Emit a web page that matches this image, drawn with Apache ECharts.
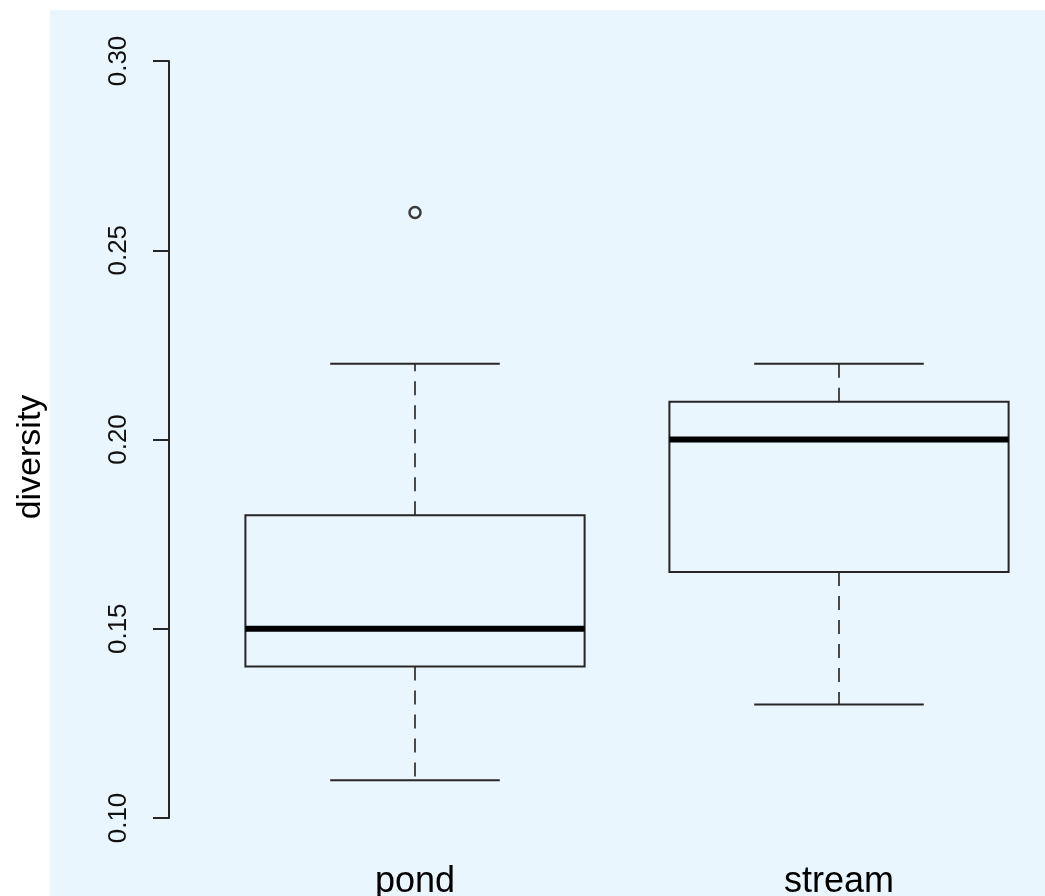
<!DOCTYPE html>
<html>
<head>
<meta charset="utf-8">
<script src="https://cdn.jsdelivr.net/npm/echarts@6/dist/echarts.min.js"></script>
<style>
  html, body { margin: 0; padding: 0; background: #fff; overflow: hidden; }
  #chart { width: 1045px; height: 896px; }
</style>
</head>
<body>
<div id="chart"></div>
<script>
// 数据：箱线图五数概括
const categories = ['pond', 'stream'];
const positions = [1, 2];
const whiskerLow = [0.11, 0.13];
const quartile1 = [0.14, 0.165];
const medians = [0.15, 0.20];
const quartile3 = [0.18, 0.21];
const whiskerHigh = [0.22, 0.22];
const outliers = [[1, 0.26]];
const yTicks = [0.10, 0.15, 0.20, 0.25, 0.30];
const yTitle = 'diversity';

const chart = echarts.init(document.getElementById('chart'));

const boxData = positions.map((p, i) => [p, whiskerLow[i], quartile1[i], medians[i], quartile3[i], whiskerHigh[i]]);

function renderBox(params, api) {
  const x = api.value(0);
  const unit = api.size([1, 0])[0];
  const boxW = unit * 0.8;
  const capW = boxW / 2;
  const pLow = api.coord([x, api.value(1)]);
  const pQ1 = api.coord([x, api.value(2)]);
  const pMed = api.coord([x, api.value(3)]);
  const pQ3 = api.coord([x, api.value(4)]);
  const pHigh = api.coord([x, api.value(5)]);
  const cx = pMed[0];
  const edge = { stroke: '#262626', lineWidth: 2 };
  const dash = { stroke: '#4a4a4a', lineWidth: 2, lineDash: [14, 10] };
  return {
    type: 'group',
    children: [
      { type: 'line', shape: { x1: cx, y1: pQ3[1], x2: cx, y2: pHigh[1] }, style: dash },
      { type: 'line', shape: { x1: cx, y1: pQ1[1], x2: cx, y2: pLow[1] }, style: dash },
      { type: 'line', shape: { x1: cx - capW / 2, y1: pHigh[1], x2: cx + capW / 2, y2: pHigh[1] }, style: edge },
      { type: 'line', shape: { x1: cx - capW / 2, y1: pLow[1], x2: cx + capW / 2, y2: pLow[1] }, style: edge },
      {
        type: 'rect',
        shape: { x: cx - boxW / 2, y: pQ3[1], width: boxW, height: pQ1[1] - pQ3[1] },
        style: { fill: 'none', stroke: '#262626', lineWidth: 2 }
      },
      { type: 'line', shape: { x1: cx - boxW / 2, y1: pMed[1], x2: cx + boxW / 2, y2: pMed[1] }, style: { stroke: '#000', lineWidth: 6 } }
    ]
  };
}

// 像素：x=1 -> 415, x=2 -> 839, y 轴线在 169
const xMin = 1 - (415 - 169) / 424;
const xMax = 1 + (1045 - 415) / 424;

const option = {
  animation: false,
  backgroundColor: '#ffffff',
  graphic: [
    {
      type: 'rect',
      z: -10,
      silent: true,
      shape: { x: 50, y: 10, width: 1000, height: 900 },
      style: { fill: '#eaf6fe' }
    },
    {
      type: 'text',
      x: 31,
      y: 457,
      rotation: Math.PI / 2,
      silent: true,
      style: {
        text: yTitle,
        fontSize: 34,
        fontFamily: 'Liberation Sans',
        fill: '#000',
        align: 'center',
        verticalAlign: 'middle'
      }
    }
  ],
  grid: { left: 169, right: 0, top: 61, bottom: 78, outerBoundsMode: 'none', containLabel: false },
  xAxis: {
    type: 'value',
    min: xMin,
    max: xMax,
    axisLine: { show: false },
    axisTick: { show: false },
    splitLine: { show: false },
    axisLabel: {
      customValues: positions,
      formatter: (v) => categories[positions.indexOf(Math.round(v))] || '',
      fontSize: 36,
      color: '#000',
      fontFamily: 'Liberation Sans',
      margin: 46
    }
  },
  yAxis: {
    type: 'value',
    min: 0.1,
    max: 0.3,
    interval: 0.05,
    axisLine: { show: true, lineStyle: { color: '#262626', width: 2 } },
    axisTick: { show: true, length: 16, lineStyle: { color: '#262626', width: 2 } },
    axisLabel: {
      rotate: 90,
      margin: 37,
      fontSize: 26,
      color: '#111',
      fontFamily: 'Liberation Sans',
      formatter: (v) => v.toFixed(2)
    },
    splitLine: { show: false }
  },
  series: [
    {
      type: 'custom',
      renderItem: renderBox,
      data: boxData,
      encode: { x: 0, y: [1, 2, 3, 4, 5] },
      clip: false,
      z: 5
    },
    {
      type: 'scatter',
      data: outliers,
      symbol: 'circle',
      symbolSize: 11,
      itemStyle: { color: '#eaf6fe', borderColor: '#3a3a3a', borderWidth: 2.5, opacity: 1 },
      z: 6
    }
  ]
};

chart.setOption(option);
</script>
</body>
</html>
